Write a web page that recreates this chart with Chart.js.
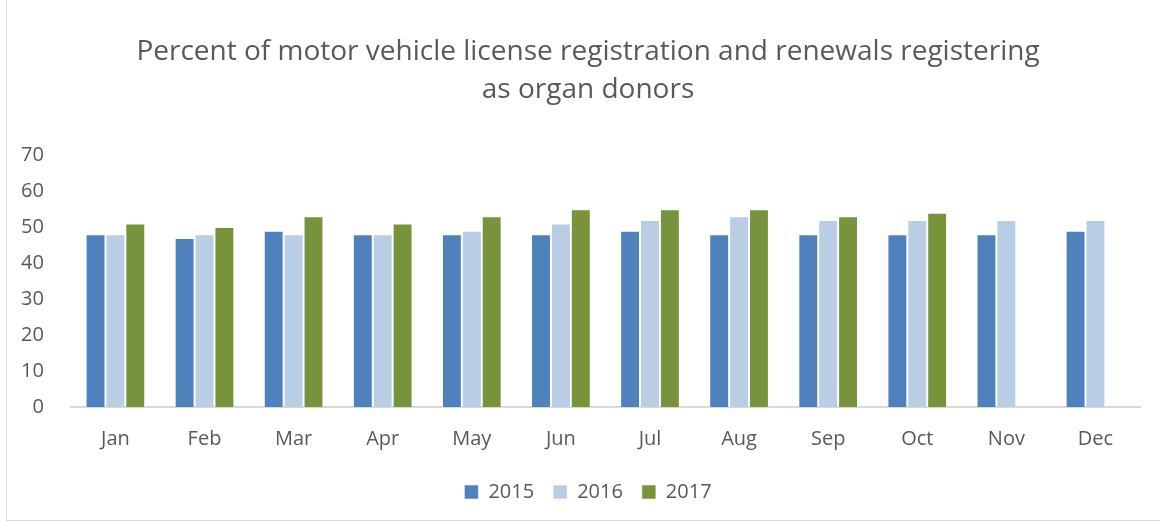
<!DOCTYPE html>
<html>
<head>
<meta charset="utf-8">
<script src="https://cdn.jsdelivr.net/npm/chart.js@4/dist/chart.umd.min.js"></script>
<style>
  html, body { margin: 0; padding: 0; background: #fff; }
  #box { position: absolute; left: 6px; top: -1px; width: 1160px; height: 522px; border: 1px solid #d9d9d9; box-sizing: border-box; }
  #wrap { position: absolute; left: 0; top: 0; width: 1160px; height: 523px; }
</style>
</head>
<body>
<div id="box"></div>
<div id="wrap"><canvas id="chart" width="1160" height="523"></canvas></div>
<script>
// 数据
var months = ["Jan", "Feb", "Mar", "Apr", "May", "Jun", "Jul", "Aug", "Sep", "Oct", "Nov", "Dec"];
var years = ["2015", "2016", "2017"];
var values2015 = [48, 47, 49, 48, 48, 48, 49, 48, 48, 48, 48, 49];
var values2016 = [48, 48, 48, 48, 49, 51, 52, 53, 52, 52, 52, 52];
var values2017 = [51, 50, 53, 51, 53, 55, 55, 55, 53, 54, null, null];
var yTicks = [0, 10, 20, 30, 40, 50, 60, 70];

var colors = ["#4f81bd", "#b9cde5", "#77933c"];
var FONT = "'Open Sans', sans-serif";

Chart.defaults.font.family = FONT;
Chart.defaults.color = '#595959';

var series = [values2015, values2016, values2017];
var datasets = series.map(function (d, i) {
    return {
        label: years[i],
        data: d,
        backgroundColor: colors[i],
        borderColor: 'rgba(255,255,255,0.5)',
        borderWidth: 1,
        barPercentage: 1,
        categoryPercentage: 0.67
    };
});

// 标题和图例居中于整个图框（而不是绘图区域）
var centerBlocks = {
    id: 'centerBlocks',
    afterLayout: function (chart) {
        [chart.titleBlock, chart.legend].forEach(function (b) {
            if (!b) return;
            b.left = 16;
            b.right = 1160;
            b.width = b.right - b.left;
        });
    }
};

new Chart(document.getElementById('chart'), {
    type: 'bar',
    data: { labels: months, datasets: datasets },
    plugins: [centerBlocks],
    options: {
        responsive: false,
        animation: false,
        layout: { padding: { left: 2, right: 20, top: 17, bottom: 11 } },
        plugins: {
            title: {
                display: true,
                text: ["Percent of motor vehicle license registration and renewals registering", "as organ donors"],
                font: { size: 28, weight: 'normal', family: FONT, lineHeight: 1.36 },
                color: '#595959',
                padding: { top: 16, bottom: 46 }
            },
            legend: {
                position: 'bottom',
                labels: {
                    boxWidth: 14,
                    boxHeight: 14,
                    font: { size: 20 },
                    color: '#595959',
                    padding: 19
                }
            },
            tooltip: { enabled: false }
        },
        scales: {
            x: {
                grid: { display: false },
                border: { color: '#d9d9d9', width: 2 },
                ticks: { font: { size: 20 }, color: '#595959', padding: 12 }
            },
            y: {
                min: 0,
                max: 70,
                afterBuildTicks: function (axis) {
                    axis.ticks = yTicks.map(function (v) { return { value: v }; });
                },
                grid: { display: false },
                border: { display: false },
                ticks: { font: { size: 20 }, color: '#595959', padding: 19 }
            }
        }
    }
});
</script>
</body>
</html>
